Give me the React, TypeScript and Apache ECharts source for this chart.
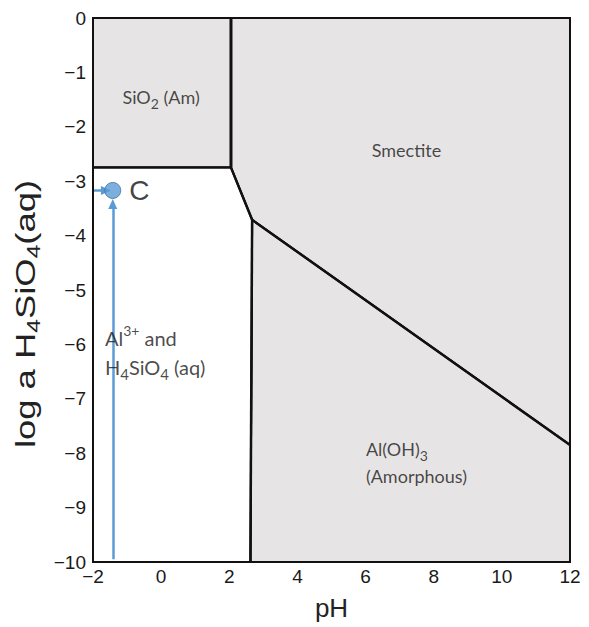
import React, { useEffect, useRef } from "react";
import * as echarts from "echarts";

// Axis ticks
const xTicks = [-2, 0, 2, 4, 6, 8, 10, 12];
const yTicks = [0, -1, -2, -3, -4, -5, -6, -7, -8, -9, -10];

// Stability field polygons (pH, log a H4SiO4)
const sio2Field = [[-2, 0], [2.05, 0], [2.05, -2.75], [-2, -2.75]];
const smectiteField = [[2.05, 0], [12, 0], [12, -7.85], [2.67, -3.71], [2.05, -2.75]];
const gibbsiteField = [[2.67, -3.71], [12, -7.85], [12, -10], [2.62, -10]];
const aqueousField = [[-2, -2.75], [2.05, -2.75], [2.67, -3.71], [2.62, -10], [-2, -10]];

// Phase boundaries
const boundarySiO2Vertical = [[2.05, 0], [2.05, -2.75]];
const boundarySiO2Bottom = [[-2, -2.75], [2.05, -2.75]];
const boundarySmectite = [[2.05, -2.75], [2.67, -3.71], [12, -7.85]];
const boundaryGibbsite = [[2.67, -3.71], [2.62, -10]];

// Point C and its paths
const pointC = [-1.42, -3.17];
const verticalPath = [[-1.42, -9.95], [-1.42, -3.42]];
const horizontalPath = [[-1.97, -3.17], [-1.62, -3.17]];

export default function App() {
  const ref = useRef<HTMLDivElement>(null);
  useEffect(() => {
    if (!ref.current) return;
    document.body.style.margin = "0";
    const chart = echarts.init(ref.current, null, { renderer: "svg" });
    const regions = [
      { pts: sio2Field, fill: "#e7e4e5" },
      { pts: smectiteField, fill: "#e7e4e5" },
      { pts: gibbsiteField, fill: "#e7e4e5" },
      { pts: aqueousField, fill: "#ffffff" },
    ];
    const fmt = (v: number) => String(v).replace("-", "\u2212");
    const blue = "#5b9bd5";
    const arial = "'Liberation Sans', Arial, sans-serif";
    const labelFont = "Lato, 'Open Sans', sans-serif";
    const ink = "#1a1a1a";
    const boundary = (data: number[][], w: number) => ({
      type: "line",
      data,
      symbol: "none",
      silent: true,
      lineStyle: { color: "#111", width: w },
      z: 3,
    });
    const textPoint = (x: number, y: number, text: string, align: string) => ({
      value: [x, y],
      label: { formatter: text, align },
    });
    chart.setOption({
      animation: false,
      grid: { left: 93, top: 18, width: 477, height: 544 },
      graphic: [
        {
          type: "text",
          x: 26,
          y: 314,
          rotation: Math.PI / 2,
          scaleX: 1.3,
          style: {
            text: "{m|log a H}{s|4}{m|SiO}{s|4}{m|(aq)}",
            align: "center",
            verticalAlign: "middle",
            rich: {
              m: { fontSize: 28, lineHeight: 34, fill: "#222", fontFamily: arial },
              s: { fontSize: 19, lineHeight: 20, verticalAlign: "bottom", fill: "#222", fontFamily: arial },
            },
          },
        },
      ],
      xAxis: {
        type: "value",
        min: -2,
        max: 12,
        interval: 2,
        name: "pH",
        nameLocation: "middle",
        nameGap: 33,
        nameTextStyle: { fontSize: 26, color: "#222", fontFamily: arial },
        axisLine: { show: false },
        axisTick: { show: false },
        splitLine: { show: false },
        axisLabel: { formatter: fmt, margin: 5, fontSize: 19, color: ink, fontFamily: arial },
      },
      yAxis: {
        type: "value",
        min: -10,
        max: 0,
        interval: 1,
        axisLine: { show: false },
        axisTick: { show: false },
        splitLine: { show: false },
        axisLabel: { formatter: fmt, margin: 7, fontSize: 19, color: ink, fontFamily: arial },
      },
      series: [
        {
          type: "custom",
          silent: true,
          z: 1,
          data: regions.map((_, i) => [i]),
          renderItem: (params: any, api: any) => {
            const r = regions[params.dataIndex];
            return {
              type: "polygon",
              shape: { points: r.pts.map((p) => api.coord(p)) },
              style: { fill: r.fill, stroke: "#111", lineWidth: 2 },
            };
          },
        },
        boundary(boundarySiO2Vertical, 3),
        boundary(boundarySiO2Bottom, 2),
        boundary(boundarySmectite, 2.5),
        boundary(boundaryGibbsite, 2.5),
        {
          type: "line",
          data: [],
          silent: true,
          z: 4,
          markLine: {
            silent: true,
            symbol: ["none", "triangle"],
            symbolSize: [9, 10],
            lineStyle: { color: blue, width: 2.5, type: "solid" },
            label: { show: false },
            data: [
              [{ coord: verticalPath[0] }, { coord: verticalPath[1] }],
              [{ coord: horizontalPath[0] }, { coord: horizontalPath[1] }],
            ],
          },
        },
        {
          type: "scatter",
          silent: true,
          z: 5,
          symbolSize: 16,
          itemStyle: { color: blue, borderColor: "#41719c", borderWidth: 1 },
          data: [pointC],
          label: {
            show: true,
            position: "right",
            distance: 8,
            formatter: "C",
            fontSize: 28,
            color: "#111",
            fontFamily: arial,
          },
        },
        {
          type: "scatter",
          silent: true,
          z: 6,
          symbolSize: 1,
          itemStyle: { color: "transparent" },
          label: {
            show: true,
            position: "inside",
            color: ink,
            fontSize: 18,
            fontFamily: labelFont,
            rich: {
              m: { fontSize: 18, lineHeight: 27, color: ink, fontFamily: labelFont },
              s: { fontSize: 14, lineHeight: 20, verticalAlign: "bottom", color: ink, fontFamily: labelFont },
              M: { fontSize: 20, lineHeight: 29, color: ink, fontFamily: labelFont },
              S: { fontSize: 15, lineHeight: 21, verticalAlign: "bottom", color: ink, fontFamily: labelFont },
              U: { fontSize: 14, lineHeight: 24, verticalAlign: "top", color: ink, fontFamily: labelFont },
            },
          },
          data: [
            textPoint(0.0, -1.45, "{m|SiO}{s|2}{m| (Am)}", "center"),
            textPoint(7.2, -2.43, "{m|Smectite}", "center"),
            textPoint(-1.65, -6.14, "{M|Al}{U|3+}{M| and}\n{M|H}{S|4}{M|SiO}{S|4}{M| (aq)}", "left"),
            textPoint(6.01, -8.18, "{m|Al(OH)}{s|3}\n{m|(Amorphous)}", "left"),
          ],
        },
      ],
    });
    return () => chart.dispose();
  }, []);
  return <div ref={ref} style={{ width: 589, height: 627 }} />;
}
